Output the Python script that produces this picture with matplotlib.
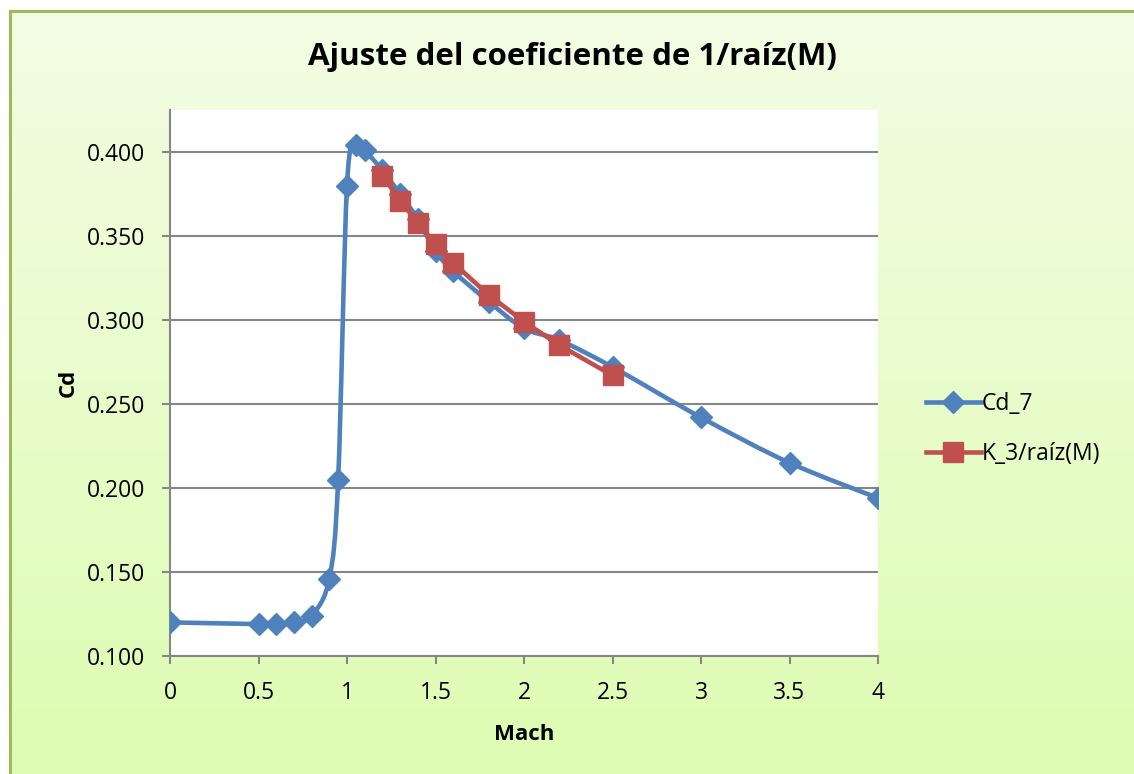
import numpy as np
import matplotlib.pyplot as plt
from matplotlib.path import Path
from matplotlib.patches import PathPatch, Rectangle
from matplotlib.lines import Line2D

plt.rcParams['font.family'] = ['Open Sans', 'DejaVu Sans']

# data
mach = [0, 0.5, 0.6, 0.7, 0.8, 0.9, 0.95, 1.0, 1.05, 1.1, 1.2, 1.3, 1.4, 1.5,
        1.6, 1.8, 2.0, 2.2, 2.5, 3.0, 3.5, 4.0]
cd_7 = [0.120, 0.119, 0.119, 0.120, 0.124, 0.146, 0.205, 0.380, 0.404, 0.401,
        0.389, 0.375, 0.360, 0.341, 0.329, 0.311, 0.295, 0.288, 0.272, 0.242,
        0.215, 0.194]
mach_fit = [1.2, 1.3, 1.4, 1.5, 1.6, 1.8, 2.0, 2.2, 2.5]
k3_fit = [0.386, 0.371, 0.358, 0.345, 0.334, 0.315, 0.299, 0.285, 0.267]

x_ticks = [0, 0.5, 1, 1.5, 2, 2.5, 3, 3.5, 4]
y_ticks = [0.100, 0.150, 0.200, 0.250, 0.300, 0.350, 0.400]

blue = '#4f81bd'
red = '#c0504d'

W, H = 1134, 774
fig = plt.figure(figsize=(W / 100, H / 100), dpi=100)
fig.patch.set_facecolor('white')

# gradient background of the chart area
bg = fig.add_axes([0, 0, 1, 1], zorder=-10)
bg.set_axis_off()
top_c = np.array([0.953, 0.992, 0.894])
bot_c = np.array([0.855, 0.988, 0.659])
t = np.linspace(0, 1, 256)[:, None]
grad = (top_c * (1 - t) + bot_c * t)[:, None, :]
bg.imshow(grad, aspect='auto', extent=[10 / W, 1.2, -0.2, 1 - 11 / H])
bg.add_patch(Rectangle((10 / W, -0.2), 1.2, 1.2 - 11 / H, fill=False,
                       edgecolor='#9bbb59', linewidth=2.2))
bg.set_xlim(0, 1)
bg.set_ylim(0, 1)

ax = fig.add_axes([170 / W, 118 / H, 708 / W, 546 / H])
ax.set_facecolor('white')


def smooth_path(xs, ys):
    # Excel-style smoothed line: cubic Bezier with control points from neighbours
    p = np.column_stack([xs, ys])
    ext = np.vstack([p[0], p, p[-1]])
    verts = [p[0]]
    codes = [Path.MOVETO]
    for i in range(len(p) - 1):
        p0, p1, p2, p3 = ext[i], ext[i + 1], ext[i + 2], ext[i + 3]
        c1 = p1 + (p2 - p0) / 6
        c2 = p2 - (p3 - p1) / 6
        verts += [c1, c2, p2]
        codes += [Path.CURVE4] * 3
    return Path(verts, codes)


ax.add_patch(PathPatch(smooth_path(mach, cd_7), facecolor='none',
                       edgecolor=blue, linewidth=3.3, zorder=3,
                       capstyle='round', joinstyle='round'))
ax.plot(mach, cd_7, linestyle='none', marker='D', markersize=11.5,
        color=blue, zorder=4)
ax.plot(mach_fit, k3_fit, color=red, linewidth=3.3, marker='s',
        markersize=14, zorder=5, solid_joinstyle='round')

ax.set_xlim(0, 4)
ax.set_ylim(0.1, 0.425)
ax.set_xticks(x_ticks)
ax.set_xticklabels(['0', '0.5', '1', '1.5', '2', '2.5', '3', '3.5', '4'])
ax.set_yticks(y_ticks)
ax.set_yticklabels(['%.3f' % v for v in y_ticks])
ax.grid(axis='y', color='#868686', linewidth=1.5)
ax.set_axisbelow(True)
for s in ['top', 'right']:
    ax.spines[s].set_visible(False)
for s in ['left', 'bottom']:
    ax.spines[s].set_color('#868686')
    ax.spines[s].set_linewidth(1.5)
ax.tick_params(direction='out', length=6, width=1.5, color='#868686',
               labelsize=16.5, pad=12)
ax.tick_params(axis='x', pad=12)

ax.set_xlabel('Mach', fontsize=16, fontweight='bold', labelpad=14)
ax.set_ylabel('Cd', fontsize=16, fontweight='bold', labelpad=6)

fig.text(572 / W, 1 - 57 / H, 'Ajuste del coeficiente de 1/raíz(M)',
         ha='center', va='center', fontsize=22.5, fontweight='bold')

handles = [Line2D([], [], color=blue, linewidth=3.3, marker='D', markersize=11.5),
           Line2D([], [], color=red, linewidth=3.3, marker='s', markersize=14)]
fig.legend(handles, ['Cd_7', 'K_3/raíz(M)'], loc='center left',
           bbox_to_anchor=(905 / W, 1 - 429 / H), frameon=False, fontsize=16.5,
           handlelength=2.4, handletextpad=0.05, labelspacing=1.15)

fig.savefig('out.png', dpi=100)
